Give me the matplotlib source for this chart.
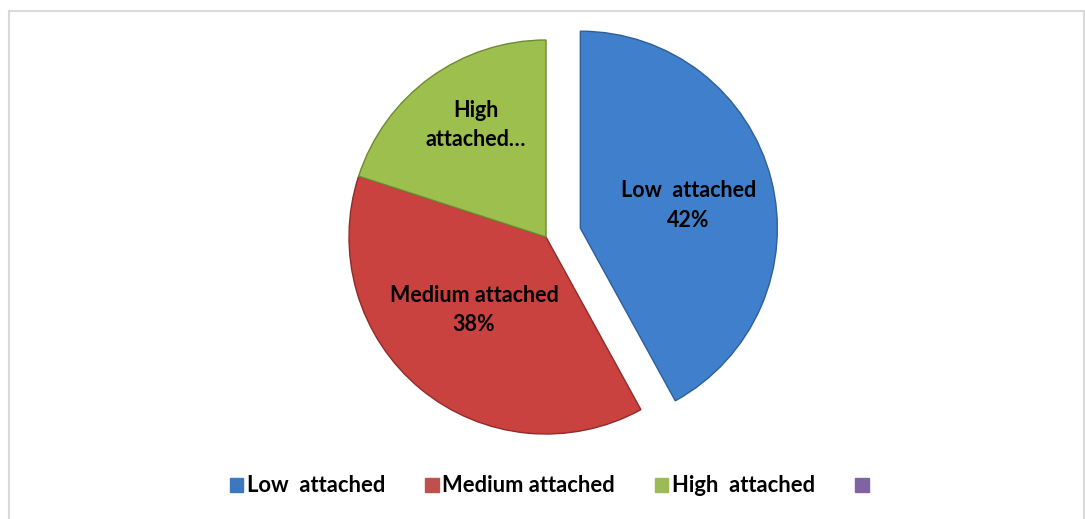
import matplotlib
matplotlib.use("Agg")
import matplotlib.pyplot as plt
from matplotlib.patches import Patch, Rectangle
import numpy as np

categories = ["Low  attached", "Medium attached", "High  attached"]
values = [42, 38, 20]
slice_labels = ["Low  attached\n42%", "Medium attached\n38%", "High\nattached…"]
legend_labels = ["Low  attached", "Medium attached", "High  attached", ""]

slice_colors = ["#3F7FCB", "#C9423F", "#9CBF4D"]
edge_colors = ["#2E5F9A", "#8E2C2A", "#6E8A33"]
legend_colors = ["#3C78BE", "#C0504D", "#9BBB59", "#8064A2"]
label_r = [0.56, 0.52, 0.67]
label_dang = [-2.5, -5, -4]

plt.rcParams['font.family'] = ['Lato', 'DejaVu Sans']

W, H = 1085, 519
fig = plt.figure(figsize=(W / 100, H / 100), dpi=100)
ax = fig.add_axes([0, 0, 1, 1])

cx, cy, R = 546, H - 237, 197
explode = [0.18 * R, 0, 0]
wedges, _ = ax.pie(values, colors=slice_colors, startangle=90, counterclock=False,
                   explode=explode, radius=R, center=(cx, cy),
                   wedgeprops=dict(linewidth=1.0))
for w, ec in zip(wedges, edge_colors):
    w.set_edgecolor(ec)

ax.set_xlim(0, W)
ax.set_ylim(0, H)
ax.set_aspect('equal')
ax.axis('off')

# chart border
ax.add_patch(Rectangle((9, -10), W - 9 - 1.5, H - 11 + 10, fill=False,
                       edgecolor="#D9D9D9", linewidth=1.5))

for w, lab, rf, da in zip(wedges, slice_labels, label_r, label_dang):
    ang = np.deg2rad((w.theta1 + w.theta2) / 2 + da)
    wx, wy = w.center
    ax.text(wx + rf * R * np.cos(ang), wy + rf * R * np.sin(ang), lab,
            ha='center', va='center', fontsize=15.5, fontweight='bold',
            color='black', linespacing=1.5)

handles = [Patch(facecolor=c, edgecolor=c) for c in legend_colors]
leg = fig.legend(handles, legend_labels, loc='center',
                 bbox_to_anchor=(551 / W, 1 - 486 / H), ncol=4, frameon=False,
                 handlelength=0.6, handleheight=0.6, handletextpad=0.15,
                 columnspacing=1.85, prop=dict(size=15.8, weight='bold'))

fig.savefig("out.png", dpi=100)
